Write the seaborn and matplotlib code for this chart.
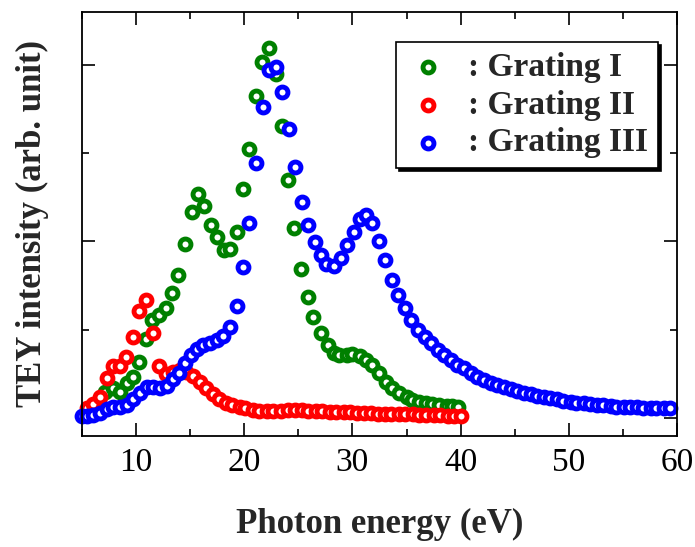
import matplotlib
matplotlib.use("Agg")
import matplotlib.pyplot as plt
from matplotlib.ticker import MultipleLocator, NullFormatter
import numpy as np
import pandas as pd
import seaborn as sns

# Grating I (green)
energy_1 = [7.1, 7.9, 8.5, 9.2, 9.7, 10.3, 10.9, 11.5, 12.1, 12.8, 13.3, 13.9, 14.5, 15.2,
            15.7, 16.3, 16.9, 17.5, 18.1, 18.7, 19.3, 19.9, 20.4, 21.1, 21.6, 22.3, 22.9, 23.5,
            24.0, 24.6, 25.2, 25.9, 26.4, 27.1, 27.7, 28.3, 28.8, 29.5, 30.0, 30.7, 31.3, 31.8,
            32.5, 33.1, 33.7, 34.3, 35.0, 35.5, 36.2, 36.8, 37.4, 38.0, 38.7, 39.2, 39.8]
tey_1 = [0.29, 0.34, 0.29, 0.40, 0.46, 0.63, 0.89, 1.11, 1.17, 1.25, 1.42, 1.62, 1.97, 2.33,
         2.54, 2.40, 2.19, 2.05, 1.90, 1.91, 2.11, 2.59, 3.05, 3.65, 4.03, 4.19, 3.90, 3.31,
         2.70, 2.15, 1.69, 1.37, 1.14, 0.96, 0.83, 0.74, 0.71, 0.71, 0.72, 0.70, 0.66, 0.60,
         0.51, 0.41, 0.34, 0.28, 0.24, 0.20, 0.18, 0.17, 0.16, 0.15, 0.14, 0.14, 0.12]

# Grating II (red)
energy_2 = [5.5, 6.0, 6.7, 7.3, 7.9, 8.5, 9.1, 9.7, 10.3, 10.9, 11.6, 12.1, 12.8, 13.4, 14.1,
            14.6, 15.3, 15.9, 16.5, 17.1, 17.7, 18.3, 18.9, 19.6, 20.1, 20.8, 21.4, 22.1, 22.7,
            23.4, 24.0, 24.7, 25.3, 25.9, 26.6, 27.2, 27.9, 28.5, 29.2, 29.8, 30.4, 31.1, 31.7,
            32.4, 33.0, 33.6, 34.3, 34.9, 35.6, 36.2, 36.8, 37.5, 38.1, 38.8, 39.4, 40.0]
tey_2 = [0.11, 0.16, 0.24, 0.45, 0.59, 0.59, 0.69, 0.92, 1.21, 1.34, 0.96, 0.59, 0.50, 0.52, 0.54,
         0.52, 0.48, 0.41, 0.34, 0.27, 0.22, 0.17, 0.15, 0.12, 0.11, 0.09, 0.08, 0.08, 0.08,
         0.08, 0.09, 0.09, 0.09, 0.08, 0.08, 0.08, 0.07, 0.07, 0.07, 0.07, 0.06, 0.06, 0.06,
         0.05, 0.05, 0.05, 0.04, 0.04, 0.04, 0.03, 0.03, 0.03, 0.03, 0.02, 0.02, 0.02]

# Grating III (blue)
energy_3 = [5.0, 5.5, 6.0, 6.7, 7.3, 7.9, 8.5, 9.2, 9.7, 10.4, 11.0, 11.6, 12.2, 12.9, 13.4,
            14.0, 14.5, 15.1, 15.6, 16.2, 16.8, 17.5, 18.0, 18.7, 19.3, 19.9, 20.4, 21.1, 21.7,
            22.3, 22.9, 23.5, 24.1, 24.7, 25.3, 25.9, 26.5, 27.1, 27.6, 28.3, 28.9, 29.5, 30.1,
            30.7, 31.3, 31.8, 32.5, 33.0, 33.7, 34.2, 34.9, 35.4, 36.1, 36.7, 37.3, 37.9, 38.5,
            39.1, 39.7, 40.3, 41.0, 41.5, 42.2, 42.8, 43.4, 44.0, 44.7, 45.2, 45.9, 46.5, 47.1,
            47.7, 48.3, 48.9, 49.5, 50.2, 50.7, 51.4, 52.0, 52.6, 53.2, 53.9, 54.4, 55.1, 55.7,
            56.3, 56.9, 57.6, 58.1, 58.8, 59.4]
tey_3 = [0.02, 0.02, 0.03, 0.06, 0.10, 0.12, 0.12, 0.15, 0.22, 0.28, 0.35, 0.35, 0.34, 0.36, 0.44,
         0.51, 0.62, 0.71, 0.78, 0.83, 0.85, 0.88, 0.93, 1.03, 1.27, 1.71, 2.21, 2.89, 3.52,
         3.94, 3.98, 3.69, 3.27, 2.84, 2.45, 2.19, 1.99, 1.85, 1.74, 1.72, 1.81, 1.96, 2.11,
         2.25, 2.30, 2.21, 2.00, 1.79, 1.56, 1.39, 1.25, 1.11, 1.00, 0.92, 0.85, 0.77, 0.71,
         0.66, 0.60, 0.57, 0.51, 0.46, 0.43, 0.40, 0.37, 0.35, 0.33, 0.31, 0.28, 0.27, 0.25,
         0.24, 0.23, 0.22, 0.19, 0.18, 0.17, 0.17, 0.16, 0.15, 0.15, 0.14, 0.12, 0.12, 0.12,
         0.12, 0.11, 0.11, 0.11, 0.11, 0.11]

series = [
    (": Grating I", energy_1, tey_1, "green"),
    (": Grating II", energy_2, tey_2, "red"),
    (": Grating III", energy_3, tey_3, "blue"),
]

sns.set_style("ticks")
plt.rcParams["font.family"] = ["Liberation Serif", "DejaVu Serif"]

fig = plt.figure(figsize=(6.95, 5.47), dpi=100)
ax = fig.add_axes([0.118, 0.203, 0.856, 0.775])

for label, x, y, color in series:
    df = pd.DataFrame({"energy": x, "tey": y})
    sns.scatterplot(data=df, x="energy", y="tey", ax=ax, marker="o", s=62,
                    color=color, facecolor="white", edgecolor=color, linewidth=3.5,
                    label=label, clip_on=False)

ax.set_xlim(5, 60)
ax.set_ylim(-0.204, 4.6)
ax.xaxis.set_major_locator(MultipleLocator(10))
ax.xaxis.set_minor_locator(MultipleLocator(5))
ax.yaxis.set_major_locator(MultipleLocator(2))
ax.yaxis.set_minor_locator(MultipleLocator(1))
ax.yaxis.set_major_formatter(NullFormatter())
ax.tick_params(which="both", direction="in", top=True, right=True, width=1.2, colors="black")
ax.tick_params(which="major", length=9.5, labelsize=24, pad=8)
ax.tick_params(which="minor", length=5)
for sp in ax.spines.values():
    sp.set_linewidth(1.3)
    sp.set_color("black")

ax.set_xlabel("Photon energy (eV)", fontsize=25, fontweight="bold", labelpad=22)
ax.set_ylabel("TEY intensity (arb. unit)", fontsize=25, fontweight="bold", labelpad=16)

leg = ax.legend(loc="upper right", bbox_to_anchor=(0.968, 0.929), borderaxespad=0,
                frameon=True, fancybox=False,
                shadow={"color": "black", "alpha": 1.0}, edgecolor="black", framealpha=1,
                prop={"weight": "bold", "size": 24}, handletextpad=0.55, labelspacing=0.2,
                borderpad=0.3, handlelength=1.3)
leg.get_frame().set_linewidth(1.2)

fig.savefig("out.png", dpi=100)
